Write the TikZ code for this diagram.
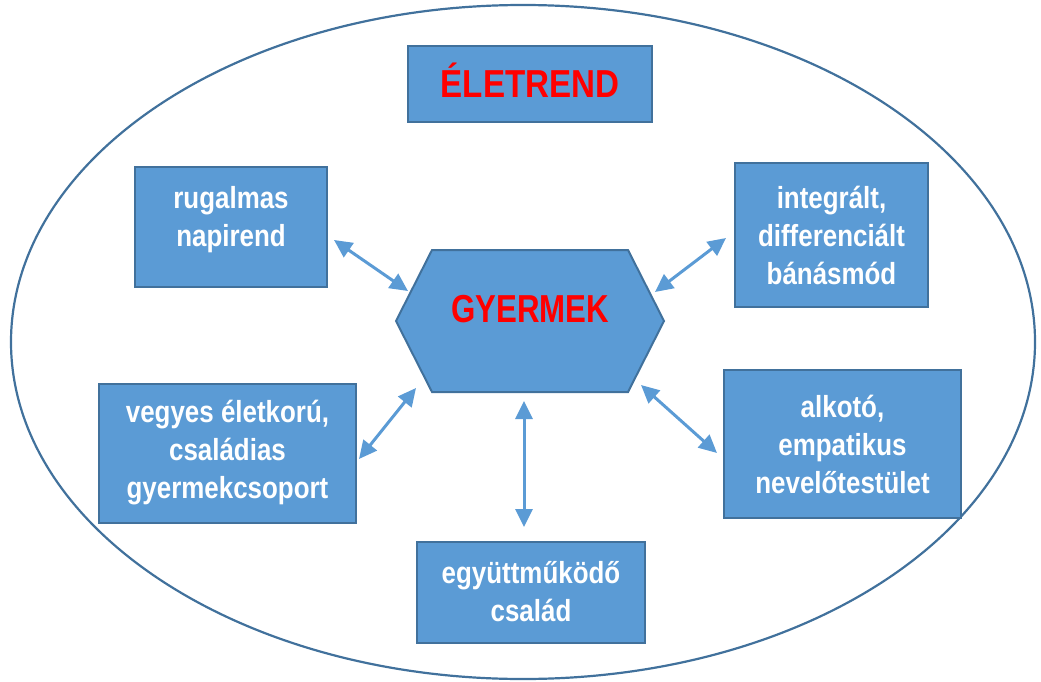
\documentclass[tikz,border=0pt]{standalone}
\usepackage{fontspec}
\setmainfont[FakeStretch=0.85]{Liberation Sans}
\newfontfamily\hexfont[FakeStretch=0.8]{Liberation Sans}
\usetikzlibrary{arrows.meta}
\definecolor{CFill}{HTML}{5B9BD5}
\definecolor{CEdge}{HTML}{41719C}
\definecolor{CRed}{HTML}{FF0000}

\tikzset{
  topicbox/.style={draw=CEdge, line width=2pt, fill=CFill, text=white, align=center,
    inner sep=0pt, font=\fontsize{30.5}{38}\selectfont\bfseries},
  link/.style={{Triangle[length=18pt,width=17pt]}-{Triangle[length=18pt,width=17pt]},
    CFill, line width=3pt}
}

\begin{document}
\begin{tikzpicture}[x=1pt, y=-1pt]
  \useasboundingbox (0,0) rectangle (1041,682);

  % ============================================
  % Outer ellipse
  % ============================================
  \draw[CEdge, line width=2.2pt] (523,342) ellipse [x radius=512, y radius=337];

  % Title box
  \node[topicbox, minimum width=244, minimum height=76] (title) at (530,84) {};
  \node[text=CRed, font=\fontsize{39}{40}\selectfont\bfseries] (titletext) at (530,80) {ÉLETREND};

  % ============================================
  % Centre: hexagon
  % ============================================
  \draw[CEdge, line width=2pt, fill=CFill]
    (432,250) -- (628,250) -- (664,321) -- (628,392) -- (432,392) -- (396,321) -- cycle;
  \node[text=CRed, font=\hexfont\fontsize{39}{40}\selectfont\bfseries] (child) at (530,309) {GYERMEK};

  % ============================================
  % Surrounding boxes
  % ============================================
  \node[topicbox, minimum width=192, minimum height=120] (napirend) at (231,227) {};
  \node[topicbox, draw=none, fill=none] at (231,220) {rugalmas\\napirend};
  \node[topicbox, minimum width=193, minimum height=144] (banasmod) at (831.5,235)
    {integrált,\\differenciált\\bánásmód};
  \node[topicbox, minimum width=257, minimum height=139] (csoport) at (227.5,453)
    {vegyes életkorú,\\családias\\gyermekcsoport};
  \node[topicbox, minimum width=237, minimum height=148] (testulet) at (842.5,444)
    {alkotó,\\empatikus\\nevelőtestület};
  \node[topicbox, minimum width=228, minimum height=101] (csalad) at (531,592)
    {együttműködő\\család};

  % Arrow ends
  \coordinate (napirendEnd) at (334,240);
  \coordinate (banasmodEnd) at (726,238);
  \coordinate (csoportEnd) at (359,459);
  \coordinate (testuletEnd) at (717,453);
  \coordinate (csaladEnd) at (524,527);
  \coordinate (childNW) at (408,291);
  \coordinate (childNE) at (655,292);
  \coordinate (childSW) at (416,388);
  \coordinate (childSE) at (641,385);
  \coordinate (childS) at (524,401);

  % Arrows
  \draw[link] (napirendEnd) -- (childNW);
  \draw[link] (banasmodEnd) -- (childNE);
  \draw[link] (csoportEnd) -- (childSW);
  \draw[link] (testuletEnd) -- (childSE);
  \draw[link] (csaladEnd) -- (childS);

\end{tikzpicture}
\end{document}
